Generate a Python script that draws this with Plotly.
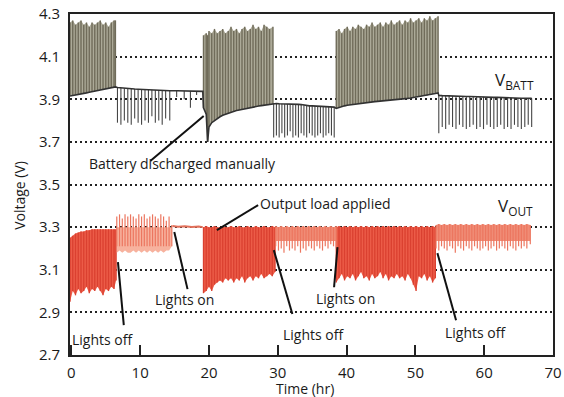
import plotly.graph_objects as go

# ---------------- data ----------------
x_ticks = [0, 10, 20, 30, 40, 50, 60, 70]
x_tick_labels = ["0", "10", "20", "30", "40", "50", "60", "70"]
y_ticks = [2.7, 2.9, 3.1, 3.3, 3.5, 3.7, 3.9, 4.1, 4.3]
y_tick_labels = ["2.7", "2.9", "3.1", "3.3", "3.5", "3.7", "3.9", "4.1", "4.3"]

# VBATT charging burst 1 (time hr, baseline V, peak V)
vb_c1_t = [-0.2, 0.2, 0.6, 1.0, 1.4, 1.8, 2.2, 2.6, 3.0, 3.4, 3.8, 4.2, 4.6, 5.0, 5.4, 5.8, 6.2, 6.4]
vb_c1_base = [3.915, 3.917, 3.920, 3.922, 3.925, 3.928, 3.930, 3.933, 3.936, 3.938, 3.941, 3.944, 3.946, 3.949, 3.952, 3.954, 3.957, 3.958]
vb_c1_peak = [4.26, 4.27, 4.25, 4.26, 4.27, 4.25, 4.26, 4.24, 4.26, 4.25, 4.26, 4.27, 4.25, 4.26, 4.24, 4.26, 4.27, 4.27]

# VBATT discharge 1 (time, baseline, spike minimum)
vb_d1_t = [6.7, 7.2, 7.7, 8.2, 8.7, 9.2, 9.7, 10.2, 10.7, 11.2, 11.7, 12.2, 12.7, 13.2, 13.7, 14.3, 15.3, 16.4, 17.3, 18.2, 19.1]
vb_d1_base = [3.955, 3.953, 3.952, 3.950, 3.949, 3.948, 3.947, 3.946, 3.945, 3.944, 3.943, 3.943, 3.942, 3.941, 3.941, 3.940, 3.940, 3.939, 3.939, 3.938, 3.937]
vb_d1_low = [3.79, 3.78, 3.80, 3.79, 3.78, 3.81, 3.79, 3.78, 3.80, 3.79, 3.82, 3.79, 3.80, 3.78, 3.81, 3.80, 3.91, 3.90, 3.86, 3.92, 3.937]

# VBATT charging burst 2 (incl. manual discharge dip)
vb_c2_t = [19.2, 19.6, 19.8, 20.0, 20.4, 20.8, 21.2, 21.6, 22.0, 22.4, 22.8, 23.2, 23.6, 24.0, 24.4, 24.8, 25.2, 25.6, 26.0, 26.4, 26.8, 27.2, 27.6, 28.0, 28.4, 28.8, 29.3]
vb_c2_base = [3.86, 3.83, 3.70, 3.77, 3.79, 3.80, 3.81, 3.818, 3.825, 3.83, 3.835, 3.84, 3.843, 3.847, 3.85, 3.853, 3.856, 3.859, 3.861, 3.863, 3.866, 3.868, 3.870, 3.872, 3.874, 3.876, 3.878]
vb_c2_peak = [4.20, 4.21, 4.20, 4.22, 4.21, 4.23, 4.21, 4.22, 4.23, 4.21, 4.22, 4.24, 4.22, 4.23, 4.21, 4.23, 4.24, 4.22, 4.23, 4.25, 4.23, 4.24, 4.22, 4.25, 4.24, 4.23, 4.24]

# VBATT discharge 2
vb_d2_t = [29.4, 29.8, 30.2, 30.6, 31.0, 31.4, 31.8, 32.2, 32.6, 33.0, 33.4, 33.8, 34.2, 34.6, 35.0, 35.4, 35.8, 36.2, 36.6, 37.0, 37.4, 37.8, 38.2]
vb_d2_base = [3.880, 3.880, 3.879, 3.879, 3.878, 3.878, 3.877, 3.877, 3.876, 3.876, 3.875, 3.872, 3.870, 3.869, 3.869, 3.868, 3.868, 3.867, 3.867, 3.866, 3.866, 3.865, 3.863]
vb_d2_low = [3.72, 3.73, 3.72, 3.74, 3.72, 3.73, 3.75, 3.72, 3.73, 3.72, 3.74, 3.73, 3.72, 3.74, 3.73, 3.72, 3.73, 3.74, 3.72, 3.73, 3.74, 3.73, 3.72]

# VBATT charging burst 3
vb_c3_t = [38.5, 38.9, 39.3, 39.7, 40.1, 40.5, 40.9, 41.3, 41.7, 42.1, 42.5, 42.9, 43.3, 43.7, 44.1, 44.5, 44.9, 45.3, 45.7, 46.1, 46.5, 46.9, 47.3, 47.7, 48.1, 48.5, 48.9, 49.3, 49.7, 50.1, 50.5, 50.9, 51.3, 51.7, 52.1, 52.5, 52.9, 53.3]
vb_c3_base = [3.857, 3.862, 3.866, 3.869, 3.872, 3.874, 3.876, 3.878, 3.880, 3.881, 3.883, 3.884, 3.886, 3.887, 3.889, 3.890, 3.891, 3.893, 3.894, 3.895, 3.897, 3.898, 3.899, 3.900, 3.902, 3.903, 3.904, 3.906, 3.908, 3.910, 3.912, 3.914, 3.916, 3.918, 3.921, 3.924, 3.927, 3.930]
vb_c3_peak = [4.22, 4.23, 4.21, 4.23, 4.24, 4.22, 4.24, 4.23, 4.25, 4.24, 4.23, 4.25, 4.24, 4.26, 4.24, 4.25, 4.26, 4.24, 4.26, 4.25, 4.27, 4.25, 4.26, 4.27, 4.25, 4.27, 4.26, 4.28, 4.26, 4.27, 4.28, 4.26, 4.28, 4.27, 4.29, 4.27, 4.28, 4.29]

# VBATT discharge 3
vb_d3_t = [53.4, 53.9, 54.4, 54.9, 55.4, 55.9, 56.4, 56.9, 57.4, 57.9, 58.4, 58.9, 59.4, 59.9, 60.4, 60.9, 61.4, 61.9, 62.4, 62.9, 63.4, 63.9, 64.4, 64.9, 65.4, 65.9, 66.4, 66.9]
vb_d3_base = [3.918, 3.917, 3.916, 3.916, 3.915, 3.915, 3.914, 3.914, 3.913, 3.913, 3.912, 3.912, 3.911, 3.911, 3.910, 3.910, 3.909, 3.909, 3.908, 3.908, 3.907, 3.907, 3.906, 3.906, 3.905, 3.905, 3.904, 3.904]
vb_d3_low = [3.74, 3.77, 3.76, 3.78, 3.77, 3.76, 3.78, 3.77, 3.76, 3.77, 3.78, 3.76, 3.77, 3.76, 3.78, 3.77, 3.76, 3.77, 3.78, 3.76, 3.77, 3.76, 3.78, 3.77, 3.76, 3.77, 3.78, 3.77]

# VOUT heavy-ripple periods (lights off): time, low, high
vo_h1_t = [-0.2, 0.2, 0.6, 1.0, 1.4, 1.8, 2.2, 2.6, 3.0, 3.4, 3.8, 4.2, 4.6, 5.0, 5.4, 5.8, 6.2, 6.5]
vo_h1_lo = [2.95, 3.00, 2.98, 3.01, 2.99, 3.00, 3.02, 2.99, 3.01, 3.00, 3.02, 3.00, 2.98, 3.01, 3.00, 3.02, 3.01, 3.05]
vo_h1_hi = [3.25, 3.26, 3.27, 3.275, 3.28, 3.28, 3.285, 3.285, 3.29, 3.29, 3.29, 3.29, 3.29, 3.29, 3.29, 3.29, 3.29, 3.29]

vo_h2_t = [19.2, 19.6, 20.0, 20.4, 20.8, 21.2, 21.6, 22.0, 22.4, 22.8, 23.2, 23.6, 24.0, 24.4, 24.8, 25.2, 25.6, 26.0, 26.4, 26.8, 27.2, 27.6, 28.0, 28.4, 28.8, 29.2, 29.6]
vo_h2_lo = [2.99, 3.00, 3.02, 3.00, 3.03, 3.04, 3.05, 3.04, 3.06, 3.05, 3.06, 3.04, 3.06, 3.05, 3.07, 3.04, 3.06, 3.07, 3.05, 3.07, 3.06, 3.08, 3.06, 3.07, 3.08, 3.07, 3.09]
vo_h2_hi = [3.30, 3.305, 3.30, 3.30, 3.305, 3.30, 3.30, 3.305, 3.30, 3.30, 3.305, 3.30, 3.30, 3.305, 3.30, 3.30, 3.305, 3.30, 3.30, 3.305, 3.30, 3.30, 3.305, 3.30, 3.30, 3.305, 3.30]

vo_h3_t = [38.5, 38.9, 39.3, 39.7, 40.1, 40.5, 40.9, 41.3, 41.7, 42.1, 42.5, 42.9, 43.3, 43.7, 44.1, 44.5, 44.9, 45.3, 45.7, 46.1, 46.5, 46.9, 47.3, 47.7, 48.1, 48.5, 48.9, 49.3, 49.7, 50.1, 50.5, 50.9, 51.3, 51.7, 52.1, 52.5, 52.9]
vo_h3_lo = [3.04, 3.06, 3.08, 3.05, 3.07, 3.06, 3.08, 3.05, 3.07, 3.09, 3.06, 3.07, 3.05, 3.08, 3.06, 3.07, 3.09, 3.06, 3.08, 3.05, 3.07, 3.06, 3.08, 3.06, 3.07, 3.05, 3.08, 3.06, 3.03, 3.00, 3.07, 3.06, 3.08, 3.05, 3.07, 3.04, 3.06]
vo_h3_hi = [3.30, 3.305, 3.30, 3.305, 3.30, 3.305, 3.30, 3.305, 3.30, 3.305, 3.30, 3.305, 3.30, 3.305, 3.30, 3.305, 3.30, 3.305, 3.30, 3.305, 3.30, 3.305, 3.30, 3.305, 3.30, 3.305, 3.30, 3.305, 3.30, 3.305, 3.30, 3.305, 3.30, 3.305, 3.30, 3.305, 3.30]

# VOUT light-ripple periods (lights on): time, low, high
vo_l1_t = [6.6, 7.0, 7.4, 7.8, 8.2, 8.6, 9.0, 9.4, 9.8, 10.2, 10.6, 11.0, 11.4, 11.8, 12.2, 12.6, 13.0, 13.4, 13.8, 14.2, 14.6]
vo_l1_lo = [3.18, 3.19, 3.18, 3.19, 3.18, 3.18, 3.19, 3.18, 3.19, 3.18, 3.19, 3.18, 3.19, 3.18, 3.19, 3.18, 3.19, 3.18, 3.19, 3.19, 3.21]
vo_l1_hi = [3.35, 3.36, 3.34, 3.36, 3.35, 3.36, 3.35, 3.34, 3.36, 3.35, 3.36, 3.34, 3.35, 3.36, 3.35, 3.34, 3.36, 3.35, 3.33, 3.35, 3.31]

vo_flat_t = [14.7, 15.5, 16.5, 17.5, 18.5, 19.1]
vo_flat_v = [3.305, 3.302, 3.304, 3.301, 3.303, 3.300]

vo_l2_t = [29.7, 30.1, 30.5, 30.9, 31.3, 31.7, 32.1, 32.5, 32.9, 33.3, 33.7, 34.1, 34.5, 34.9, 35.3, 35.7, 36.1, 36.5, 36.9, 37.3, 37.7, 38.1, 38.5]
vo_l2_lo = [3.21, 3.19, 3.20, 3.18, 3.21, 3.19, 3.20, 3.19, 3.21, 3.18, 3.20, 3.19, 3.21, 3.20, 3.19, 3.21, 3.20, 3.19, 3.21, 3.20, 3.22, 3.21, 3.20]
vo_l2_hi = [3.305, 3.30, 3.305, 3.30, 3.305, 3.30, 3.305, 3.30, 3.305, 3.30, 3.305, 3.30, 3.305, 3.30, 3.305, 3.30, 3.305, 3.30, 3.305, 3.30, 3.305, 3.30, 3.305]

vo_l3_t = [53.0, 53.4, 53.8, 54.2, 54.6, 55.0, 55.4, 55.8, 56.2, 56.6, 57.0, 57.4, 57.8, 58.2, 58.6, 59.0, 59.4, 59.8, 60.2, 60.6, 61.0, 61.4, 61.8, 62.2, 62.6, 63.0, 63.4, 63.8, 64.2, 64.6, 65.0, 65.4, 65.8, 66.2, 66.7]
vo_l3_lo = [3.20, 3.19, 3.21, 3.20, 3.19, 3.21, 3.20, 3.18, 3.21, 3.20, 3.19, 3.21, 3.20, 3.19, 3.21, 3.20, 3.19, 3.20, 3.21, 3.19, 3.20, 3.21, 3.19, 3.20, 3.21, 3.20, 3.19, 3.21, 3.20, 3.19, 3.21, 3.20, 3.21, 3.20, 3.22]
vo_l3_hi = [3.31, 3.315, 3.31, 3.315, 3.31, 3.315, 3.31, 3.315, 3.31, 3.315, 3.31, 3.315, 3.31, 3.315, 3.31, 3.315, 3.31, 3.315, 3.31, 3.315, 3.31, 3.315, 3.31, 3.315, 3.31, 3.315, 3.31, 3.315, 3.31, 3.315, 3.31, 3.315, 3.31, 3.315, 3.31]

# annotation texts and pointer lines (data coordinates)
notes = [
    ("Battery discharged manually", 16.1, 3.60, (11.47, 3.610, 19.23, 3.821)),
    ("Output load applied", 36.97, 3.413, (27.14, 3.403, 21.15, 3.286)),
    ("Lights off", 4.63, 2.774, (6.77, 3.136, 7.62, 2.840)),
    ("Lights on", 16.38, 2.962, (14.96, 3.277, 16.88, 3.009)),
    ("Lights off", 35.26, 2.798, (29.42, 3.192, 32.12, 2.892)),
    ("Lights on", 39.89, 2.967, (38.68, 3.206, 38.18, 3.018)),
    ("Lights off", 58.76, 2.807, (53.2, 3.178, 55.91, 2.863)),
]

# ---------------- drawing ----------------
def spikes(t, a, b):
    xs, ys = [], []
    for ti, ai, bi in zip(t, a, b):
        xs += [ti, ti, None]
        ys += [ai, bi, None]
    return xs, ys


def band(t, lo, hi):
    return list(t) + list(t)[::-1], list(hi) + list(lo)[::-1]


fig = go.Figure()

def add_band(t, lo, hi, color):
    bx, by = band(t, lo, hi)
    fig.add_trace(go.Scatter(x=bx, y=by, fill="toself", fillcolor=color,
                             mode="lines", line=dict(width=0), hoverinfo="skip"))

def add_spikes(t, a, b, color, width):
    sx, sy = spikes(t, a, b)
    fig.add_trace(go.Scatter(x=sx, y=sy, mode="lines",
                             line=dict(color=color, width=width), hoverinfo="skip"))

def add_line(t, v, color, width):
    fig.add_trace(go.Scatter(x=t, y=v, mode="lines",
                             line=dict(color=color, width=width), hoverinfo="skip"))

# VOUT
RED_FILL = "rgb(236,92,72)"
RED_LINE = "rgb(218,64,48)"
PINK_FILL = "rgb(247,178,158)"
PINK_LINE = "rgb(236,118,95)"
for t, lo, hi in [(vo_h1_t, vo_h1_lo, vo_h1_hi), (vo_h2_t, vo_h2_lo, vo_h2_hi), (vo_h3_t, vo_h3_lo, vo_h3_hi)]:
    add_band(t, lo, hi, RED_FILL)
    add_spikes(t, lo, hi, RED_LINE, 1.3)
# lights-on (light ripple)
add_band(vo_l1_t, vo_l1_lo, [3.30] * len(vo_l1_t), PINK_FILL)
add_spikes(vo_l1_t, [3.21] * len(vo_l1_t), vo_l1_hi, PINK_LINE, 1.2)
for t, lo, hi in [(vo_l2_t, vo_l2_lo, vo_l2_hi), (vo_l3_t, vo_l3_lo, vo_l3_hi)]:
    add_band(t, [3.235] * len(t), hi, "rgb(240,140,118)")
    add_spikes(t, lo, hi, PINK_LINE, 1.2)
add_line(vo_flat_t, vo_flat_v, "rgb(226,112,90)", 2)

# VBATT
OLIVE_FILL = "rgb(172,170,152)"
OLIVE_LINE = "rgb(112,108,90)"
for t, base, peak in [(vb_c1_t, vb_c1_base, vb_c1_peak), (vb_c2_t, vb_c2_base, vb_c2_peak), (vb_c3_t, vb_c3_base, vb_c3_peak)]:
    add_band(t, base, peak, OLIVE_FILL)
    add_spikes(t, base, peak, OLIVE_LINE, 1.4)
for t, base, low in [(vb_d1_t, vb_d1_base, vb_d1_low), (vb_d2_t, vb_d2_base, vb_d2_low), (vb_d3_t, vb_d3_base, vb_d3_low)]:
    add_spikes(t, low, base, "rgb(70,70,70)", 1.1)
base_t = vb_c1_t + vb_d1_t + vb_c2_t + vb_d2_t + vb_c3_t + vb_d3_t
base_v = vb_c1_base + vb_d1_base + vb_c2_base + vb_d2_base + vb_c3_base + vb_d3_base
add_line(base_t, base_v, "rgb(50,50,50)", 1.6)

# annotations
FONT = "Open Sans"
shapes = []
annotations = []
for text, tx, ty, (x0, y0, x1, y1) in notes:
    shapes.append(dict(type="line", xref="x", yref="y", x0=x0, y0=y0, x1=x1, y1=y1,
                       line=dict(color="#111", width=2)))
    annotations.append(dict(text=text, x=tx, y=ty, xref="x", yref="y", showarrow=False,
                            xanchor="center", yanchor="middle",
                            font=dict(family=FONT, size=14, color="#1a1a1a")))
annotations.append(dict(text="V<sub>BATT</sub>", x=61.3, y=3.99, xref="x", yref="y", xanchor="left",
                        yanchor="middle", showarrow=False, font=dict(family=FONT, size=17, color="#1a1a1a")))
annotations.append(dict(text="V<sub>OUT</sub>", x=61.75, y=3.395, xref="x", yref="y", xanchor="left",
                        yanchor="middle", showarrow=False, font=dict(family=FONT, size=17, color="#1a1a1a")))
annotations.append(dict(text="Time (hr)", x=0.486, y=-0.098, xref="paper", yref="paper",
                        xanchor="center", yanchor="middle",
                        showarrow=False, font=dict(family=FONT, size=14, color="#1a1a1a")))
annotations.append(dict(text="Voltage (V)", x=-0.106, y=0.469, xref="paper", yref="paper",
                        xanchor="center", yanchor="middle",
                        textangle=-90, showarrow=False, font=dict(family=FONT, size=14, color="#1a1a1a")))

fig.update_layout(width=564, height=397, margin=dict(l=70, r=2, t=14, b=42),
                  paper_bgcolor="white", plot_bgcolor="white", showlegend=False,
                  font=dict(family=FONT, size=15, color="#1a1a1a"),
                  shapes=shapes, annotations=annotations)
fig.update_xaxes(range=[-0.2, 70], tickvals=x_ticks, ticktext=x_tick_labels, ticks="inside",
                 ticklen=10, tickwidth=1.5, tickcolor="#222", showline=True, linewidth=2,
                 linecolor="#222", mirror=True, showgrid=False, zeroline=False,
                 ticklabelstandoff=3, ticklabeloverflow="allow")
fig.update_yaxes(range=[2.7, 4.3], tickvals=y_ticks, ticktext=y_tick_labels, ticks="",
                 showline=True, linewidth=2, linecolor="#222", mirror=True, showgrid=True,
                 gridcolor="#222", gridwidth=1.5, griddash="2px,3px", zeroline=False,
                 ticklabelstandoff=5)

fig.write_html("out.html", config={"displayModeBar": False},
               post_script="document.body.style.margin='0px';document.body.style.overflow='hidden';")
